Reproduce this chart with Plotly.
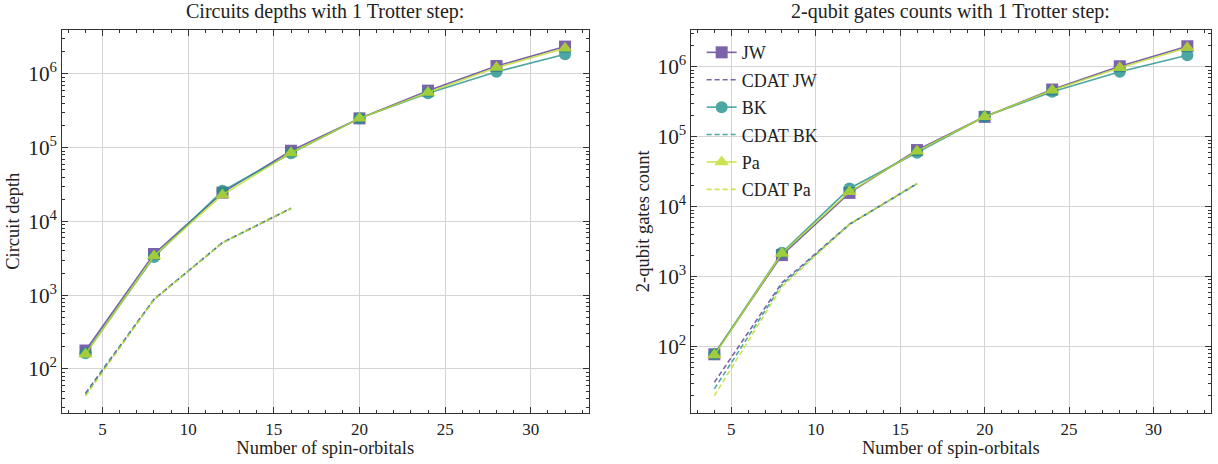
import plotly.graph_objects as go

x_full = [4, 8, 12, 16, 20, 24, 28, 32]
x_cdat = [4, 8, 12, 16]

# Circuit depths
depth_jw = [178, 3620, 24600, 91000, 250000, 594000, 1280000, 2350000]
depth_bk = [163, 3300, 26000, 84000, 250000, 547000, 1070000, 1850000]
depth_pa = [158, 3400, 22900, 85000, 250000, 560000, 1220000, 2230000]
depth_cdat_jw = [47, 881, 5170, 15100]
depth_cdat_bk = [45, 875, 5150, 15000]
depth_cdat_pa = [43, 870, 5150, 15000]

# 2-qubit gate counts
gates_jw = [78, 2040, 15800, 64700, 193000, 474000, 1020000, 1970000]
gates_bk = [78, 2200, 18300, 59000, 195000, 440000, 849000, 1470000]
gates_pa = [76, 2150, 16400, 62400, 193000, 464000, 968000, 1870000]
gates_cdat_jw = [31, 820, 5650, 21500]
gates_cdat_bk = [25, 770, 5600, 21300]
gates_cdat_pa = [20, 720, 5650, 21500]

names = ["JW", "CDAT JW", "BK", "CDAT BK", "Pa", "CDAT Pa"]
colors = {"JW": "#5b3c96", "BK": "#21918c", "Pa": "#bddf26"}
symbols = {"JW": "square", "BK": "circle", "Pa": "triangle-up"}

FONT = "Liberation Serif"

fig = go.Figure()

def add_panel(data, xa, ya, show_legend):
    for key in ["JW", "BK", "Pa"]:
        full, cdat = data[key]
        fig.add_trace(go.Scatter(
            x=x_full, y=full, mode="lines+markers", name=key,
            xaxis=xa, yaxis=ya, legendgroup=key, showlegend=show_legend,
            line=dict(color=colors[key], width=1.6),
            marker=dict(symbol=symbols[key], size=12 if key != "Pa" else 13,
                        color=colors[key]),
            opacity=0.8,
        ))
        fig.add_trace(go.Scatter(
            x=x_cdat, y=cdat, mode="lines", name="CDAT " + key,
            xaxis=xa, yaxis=ya, legendgroup="CDAT " + key, showlegend=show_legend,
            line=dict(color=colors[key], width=1.6, dash="5px,3px"),
            opacity=0.8,
        ))

add_panel({"JW": (depth_jw, depth_cdat_jw), "BK": (depth_bk, depth_cdat_bk),
           "Pa": (depth_pa, depth_cdat_pa)}, "x", "y", False)
add_panel({"JW": (gates_jw, gates_cdat_jw), "BK": (gates_bk, gates_cdat_bk),
           "Pa": (gates_pa, gates_cdat_pa)}, "x2", "y2", True)

W, H = 1218, 464
top, bottom = 29.5, 413
ydom = [1 - bottom / H, 1 - top / H]

def xaxis_cfg(dom, anchor):
    return dict(domain=dom, anchor=anchor, range=[2.6, 33.4],
                tickvals=[5, 10, 15, 20, 25, 30], ticks="inside", ticklen=6,
                tickcolor="#333", mirror="ticks", showline=True, linecolor="#333",
                linewidth=1.2, showgrid=True, gridcolor="#d4d4d4", gridwidth=1,
                zeroline=False,
                minor=dict(dtick=1, tick0=0, ticks="inside", ticklen=3,
                           tickcolor="#333", showgrid=False),
                tickfont=dict(family=FONT, size=17, color="#222"),
                title=dict(text="Number of spin-orbitals", standoff=3,
                           font=dict(family=FONT, size=18.5, color="#222")))

def yaxis_cfg(rng, anchor, title):
    return dict(domain=ydom, anchor=anchor, type="log", range=rng, dtick=1,
                exponentformat="power", ticks="inside", ticklen=6,
                tickcolor="#333", mirror="ticks", showline=True, linecolor="#333",
                linewidth=1.2, showgrid=True, gridcolor="#d4d4d4", gridwidth=1,
                zeroline=False,
                minor=dict(dtick="D1", ticks="inside", ticklen=3,
                           tickcolor="#333", showgrid=False),
                tickfont=dict(family=FONT, size=17, color="#222"),
                title=dict(text=title, standoff=3,
                           font=dict(family=FONT, size=18.5, color="#222")))

lx = [61.5 / W, 589 / W]
rx = [690.7 / W, 1211 / W]

fig.update_layout(
    width=W, height=H,
    margin=dict(l=0, r=0, t=0, b=0),
    paper_bgcolor="white", plot_bgcolor="white",
    font=dict(family=FONT, color="#222"),
    xaxis=xaxis_cfg(lx, "y"),
    yaxis=yaxis_cfg([1.403, 6.603], "x", "Circuit depth"),
    xaxis2=xaxis_cfg(rx, "y2"),
    yaxis2=yaxis_cfg([1.053, 6.534], "x2", "2-qubit gates count"),
    legend=dict(x=rx[0] + 0.009, y=ydom[1] - 0.01, xanchor="left", yanchor="top",
                bgcolor="rgba(255,255,255,0)", borderwidth=0,
                font=dict(family=FONT, size=18, color="#222"),
                tracegroupgap=1, itemwidth=30),
    annotations=[
        dict(text="Circuits depths with 1 Trotter step:", x=sum(lx) / 2, y=1 - 12 / H,
             xref="paper", yref="paper", showarrow=False, xanchor="center",
             yanchor="middle", font=dict(family=FONT, size=20, color="#222")),
        dict(text="2-qubit gates counts with 1 Trotter step:", x=sum(rx) / 2,
             y=1 - 12 / H, xref="paper", yref="paper", showarrow=False,
             xanchor="center", yanchor="middle",
             font=dict(family=FONT, size=20, color="#222")),
    ],
)

fig.write_html("out.html", config={"displayModeBar": False},
               post_script="document.body.style.margin='0';document.body.style.overflow='hidden';")
